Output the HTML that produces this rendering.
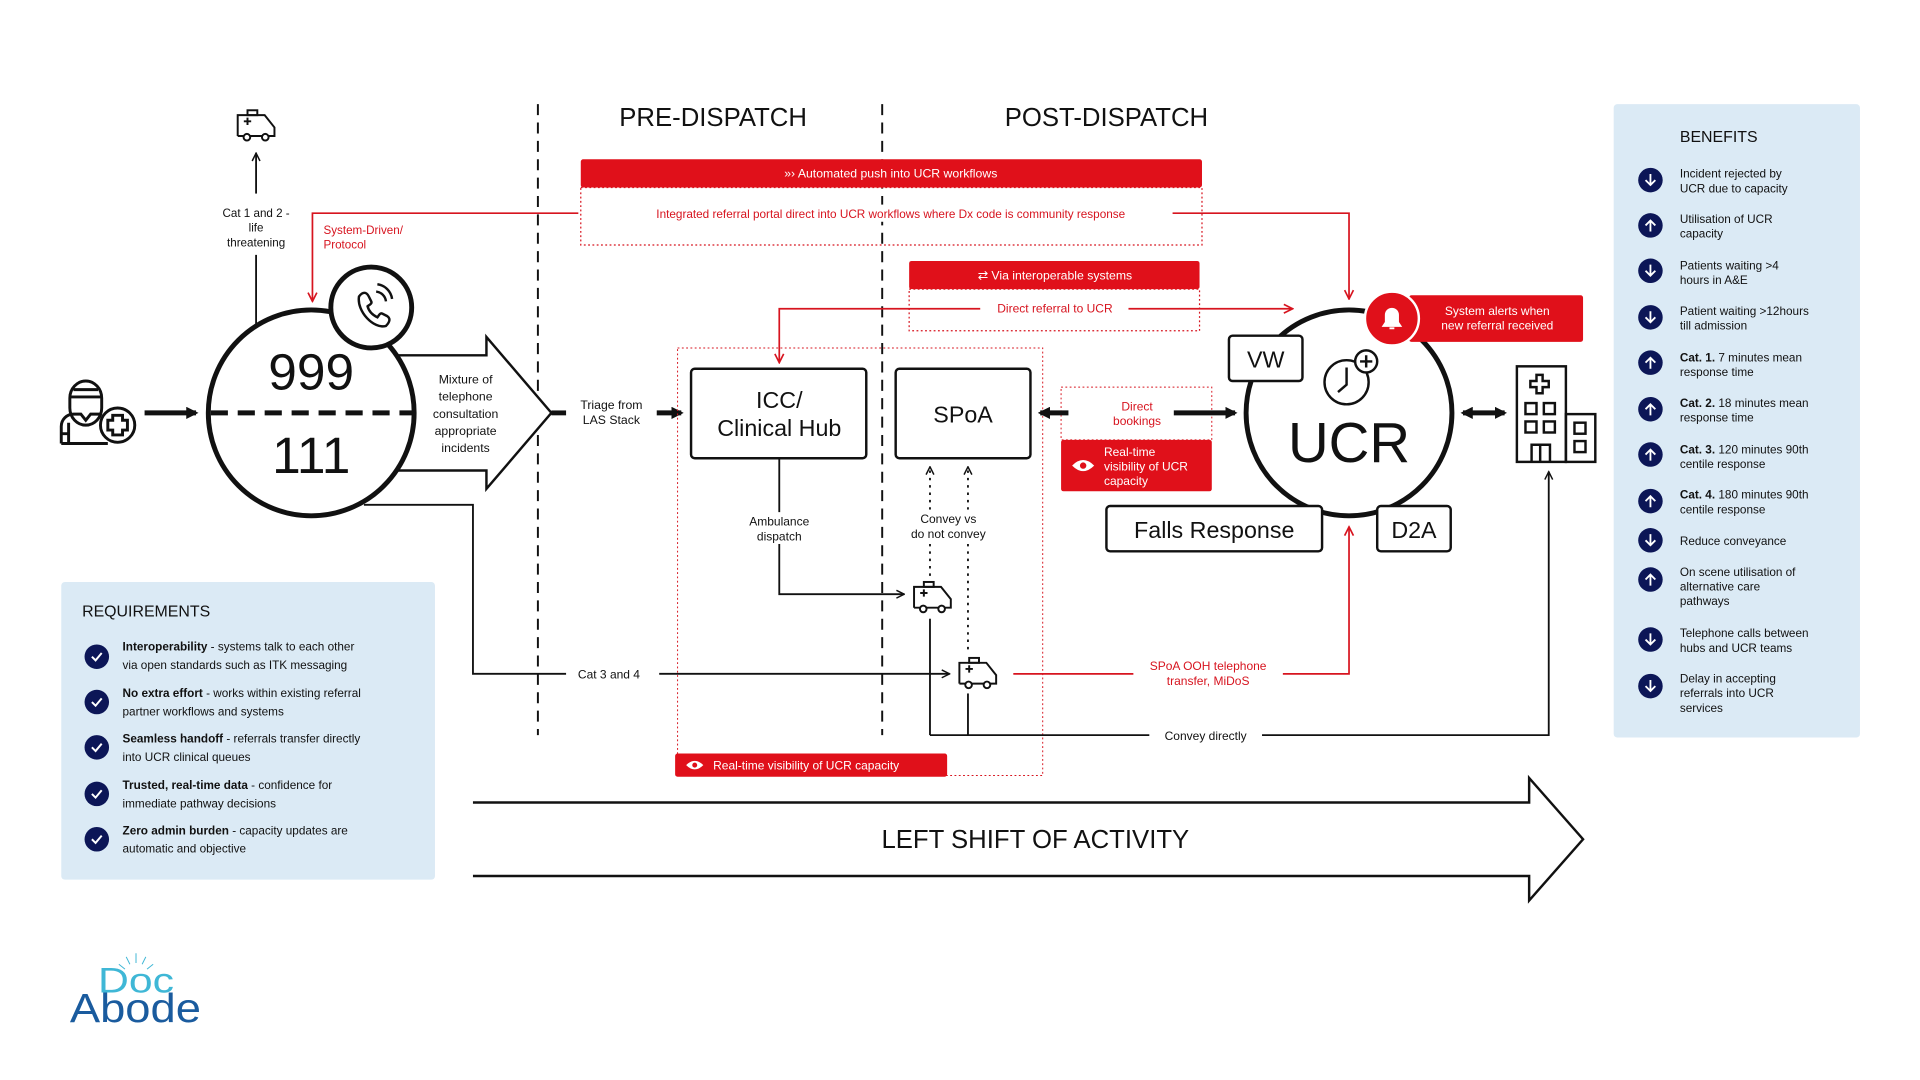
<!DOCTYPE html>
<html><head><meta charset="utf-8"><style>
html,body{margin:0;padding:0;background:#fff;width:1920px;height:1080px;overflow:hidden}
svg{display:block}
text{font-family:"Liberation Sans",sans-serif}
</style></head><body>
<svg width="1920" height="1080" viewBox="0 0 1567 881.5" preserveAspectRatio="none" xmlns="http://www.w3.org/2000/svg">
<defs>
<marker id="ab" viewBox="0 0 10 10" refX="9" refY="5" markerWidth="8" markerHeight="8" orient="auto-start-reverse" markerUnits="userSpaceOnUse"><path d="M1,1 L9,5 L1,9" fill="none" stroke="#111" stroke-width="1.5"/></marker>
<marker id="ar" viewBox="0 0 10 10" refX="9" refY="5" markerWidth="9" markerHeight="9" orient="auto-start-reverse" markerUnits="userSpaceOnUse"><path d="M1,1 L9,5 L1,9" fill="none" stroke="#d7141f" stroke-width="1.5"/></marker>
<marker id="at" viewBox="0 0 10 10" refX="8" refY="5" markerWidth="10" markerHeight="10" orient="auto-start-reverse" markerUnits="userSpaceOnUse"><path d="M0,0 L10,5 L0,10 Z" fill="#111"/></marker>
<g id="amb" fill="none" stroke="#111" stroke-width="1.6">
<path d="M0,20 V3 H22 L30,13 V20 H25 M20,20 H10 M5,20 H0"/><rect x="8" y="-1" width="8" height="4"/><path d="M5,8 H11 M8,5 V11"/><circle cx="7.5" cy="21" r="2.7"/><circle cx="22.5" cy="21" r="2.7"/>
</g>
</defs>

<line x1="439" y1="85" x2="439" y2="600" stroke="#111" stroke-width="1.6" stroke-dasharray="9 6"/>
<line x1="720" y1="85" x2="720" y2="600" stroke="#111" stroke-width="1.6" stroke-dasharray="9 6"/>
<text x="582" y="103" font-size="21" text-anchor="middle" fill="#111">PRE-DISPATCH</text>
<text x="903" y="103" font-size="21" text-anchor="middle" fill="#111">POST-DISPATCH</text>

<use href="#amb" x="194" y="91"/>
<line x1="209" y1="158" x2="209" y2="125" stroke="#111" stroke-width="1.5" marker-end="url(#ab)"/>
<text font-size="9.5" text-anchor="middle" fill="#111"><tspan x="209" y="177">Cat 1 and 2 -</tspan><tspan x="209" y="189">life</tspan><tspan x="209" y="201">threatening</tspan></text>
<line x1="209" y1="208" x2="209" y2="266" stroke="#111" stroke-width="1.5"/>

<path d="M472,174 H255 V246" fill="none" stroke="#d7141f" stroke-width="1.4" marker-end="url(#ar)"/>
<text font-size="9.5" fill="#d7141f"><tspan x="264" y="191">System-Driven/</tspan><tspan x="264" y="203">Protocol</tspan></text>

<g fill="none" stroke="#111" stroke-width="2.4">
<path d="M57,325 a13,14 0 0 1 26,0 v8 a13,14 0 0 1 -26,0 z"/><path d="M57,324 h26 M60,318 h20"/>
<path d="M50,362 v-14 a10,10 0 0 1 10,-10 h6 l4,5 l4,-5 h8"/><path d="M50,362 h38 M50,354 h6 M56,345 v17"/>
<circle cx="96" cy="347" r="14" fill="#fff"/><path d="M92,339 h8 v4 h4 v8 h-4 v4 h-8 v-4 h-4 v-8 h4 z"/>
</g>
<line x1="118" y1="337" x2="160" y2="337" stroke="#111" stroke-width="4" marker-end="url(#at)"/>

<path d="M296,290 H397 V275 L450,337 L397,399 V384 H296" fill="#fff" stroke="#111" stroke-width="2"/>
<text font-size="10" text-anchor="middle" fill="#111"><tspan x="380" y="313">Mixture of</tspan><tspan x="380" y="327">telephone</tspan><tspan x="380" y="341">consultation</tspan><tspan x="380" y="355">appropriate</tspan><tspan x="380" y="369">incidents</tspan></text>

<circle cx="254" cy="337" r="84" fill="#fff" stroke="#111" stroke-width="4"/>
<line x1="172" y1="337" x2="337" y2="337" stroke="#111" stroke-width="4" stroke-dasharray="14 8"/>
<text x="254" y="318" font-size="42" text-anchor="middle" fill="#111">999</text>
<text x="254" y="386" font-size="42" text-anchor="middle" fill="#111">111</text>
<circle cx="303" cy="251" r="33" fill="#fff" stroke="#111" stroke-width="4"/>
<path d="M293,242 c3,-4 6,-4 8,0 l2,4 c1,2 -2,3 -3,4 c1,4 4,7 8,9 c1,-1 2,-4 4,-3 l4,2 c3,2 2,5 -1,8 c-10,3 -24,-12 -22,-24 z" fill="none" stroke="#111" stroke-width="2"/>
<path d="M307,238 a9,9 0 0 1 8,8 M308,232 a14,14 0 0 1 12,12" fill="none" stroke="#111" stroke-width="2"/>

<line x1="450" y1="337" x2="462" y2="337" stroke="#111" stroke-width="4"/>
<text font-size="10" text-anchor="middle" fill="#111"><tspan x="499" y="334">Triage from</tspan><tspan x="499" y="346">LAS Stack</tspan></text>
<line x1="536" y1="337" x2="556" y2="337" stroke="#111" stroke-width="4" marker-end="url(#at)"/>

<rect x="474" y="153" width="507" height="47" fill="none" stroke="#d7141f" stroke-width="1" stroke-dasharray="1.5 2"/>
<rect x="474" y="130" width="507" height="23" rx="2" fill="#e0101a"/>
<text x="727" y="145" font-size="10" text-anchor="middle" fill="#fff">»› Automated push into UCR workflows</text>
<rect x="500" y="167" width="455" height="14" fill="#fff"/>
<text x="727" y="178" font-size="9.6" text-anchor="middle" fill="#d7141f">Integrated referral portal direct into UCR workflows where Dx code is community response</text>
<path d="M957,174 H1101 V244" fill="none" stroke="#d7141f" stroke-width="1.4" marker-end="url(#ar)"/>

<rect x="742" y="236" width="237" height="34" fill="none" stroke="#d7141f" stroke-width="1" stroke-dasharray="1.5 2"/>
<rect x="742" y="213" width="237" height="23" rx="2" fill="#e0101a"/>
<text x="861" y="228" font-size="10" text-anchor="middle" fill="#fff">⇄ Via interoperable systems</text>
<path d="M800,252 H636 V296" fill="none" stroke="#d7141f" stroke-width="1.4" marker-end="url(#ar)"/>
<text x="861" y="255" font-size="9.8" text-anchor="middle" fill="#d7141f">Direct referral to UCR</text>
<line x1="921" y1="252" x2="1055" y2="252" stroke="#d7141f" stroke-width="1.4" marker-end="url(#ar)"/>

<rect x="553" y="284" width="298" height="349" fill="none" stroke="#d7141f" stroke-width="0.8" stroke-dasharray="1.5 2"/>

<rect x="564" y="301" width="143" height="73" rx="3" fill="#fff" stroke="#111" stroke-width="2"/>
<text font-size="19" text-anchor="middle" fill="#111"><tspan x="636" y="333">ICC/</tspan><tspan x="636" y="356">Clinical Hub</tspan></text>
<rect x="731" y="301" width="110" height="73" rx="3" fill="#fff" stroke="#111" stroke-width="2"/>
<text x="786" y="345" font-size="19" text-anchor="middle" fill="#111">SPoA</text>

<path d="M636,374 V485 H738" fill="none" stroke="#111" stroke-width="1.5" marker-end="url(#ab)"/>
<rect x="600" y="418" width="72" height="26" fill="#fff"/>
<text font-size="9.8" text-anchor="middle" fill="#111"><tspan x="636" y="429">Ambulance</tspan><tspan x="636" y="441">dispatch</tspan></text>
<use href="#amb" x="746" y="476"/>
<use href="#amb" x="783" y="538"/>

<line x1="759" y1="470" x2="759" y2="381" stroke="#111" stroke-width="1.5" stroke-dasharray="2 4" marker-end="url(#ab)"/>
<line x1="790" y1="530" x2="790" y2="381" stroke="#111" stroke-width="1.5" stroke-dasharray="2 4" marker-end="url(#ab)"/>
<rect x="735" y="416" width="80" height="28" fill="#fff"/>
<text font-size="9.8" text-anchor="middle" fill="#111"><tspan x="774" y="427">Convey vs</tspan><tspan x="774" y="439">do not convey</tspan></text>

<line x1="759" y1="505" x2="759" y2="600" stroke="#111" stroke-width="1.5"/>
<line x1="790" y1="566" x2="790" y2="600" stroke="#111" stroke-width="1.5"/>
<path d="M759,600 H938 M1030,600 H1264 V385" fill="none" stroke="#111" stroke-width="1.5" marker-end="url(#ab)"/>
<text x="984" y="604" font-size="9.8" text-anchor="middle" fill="#111">Convey directly</text>

<path d="M297,412 H386 V550 H462" fill="none" stroke="#111" stroke-width="1.5"/>
<text x="497" y="554" font-size="9.8" text-anchor="middle" fill="#111">Cat 3 and 4</text>
<line x1="538" y1="550" x2="775" y2="550" stroke="#111" stroke-width="1.5" marker-end="url(#ab)"/>

<line x1="827" y1="550" x2="925" y2="550" stroke="#d7141f" stroke-width="1.4"/>
<text font-size="9.8" text-anchor="middle" fill="#d7141f"><tspan x="986" y="547">SPoA OOH telephone</tspan><tspan x="986" y="559">transfer, MiDoS</tspan></text>
<path d="M1047,550 H1101 V430" fill="none" stroke="#d7141f" stroke-width="1.4" marker-end="url(#ar)"/>

<rect x="551" y="615" width="222" height="19" rx="2" fill="#e0101a"/>
<path d="M560,624.5 q7,-7 14,0 q-7,7 -14,0 z" fill="#fff"/><circle cx="567" cy="624.5" r="2" fill="#e0101a"/>
<text x="582" y="628" font-size="9.8" fill="#fff">Real-time visibility of UCR capacity</text>

<rect x="866" y="316" width="123" height="43" fill="none" stroke="#d7141f" stroke-width="0.8" stroke-dasharray="1.5 2"/>
<text font-size="9.8" text-anchor="middle" fill="#d7141f"><tspan x="928" y="335">Direct</tspan><tspan x="928" y="347">bookings</tspan></text>
<line x1="872" y1="337" x2="849" y2="337" stroke="#111" stroke-width="4" marker-end="url(#at)"/>
<line x1="958" y1="337" x2="1008" y2="337" stroke="#111" stroke-width="4" marker-end="url(#at)"/>
<rect x="866" y="359" width="123" height="42" rx="2" fill="#e0101a"/>
<path d="M875,380 q9,-9 18,0 q-9,9 -18,0 z" fill="#fff"/><circle cx="884" cy="380" r="2.6" fill="#e0101a"/>
<text font-size="9.8" fill="#fff"><tspan x="901" y="372">Real-time</tspan><tspan x="901" y="384">visibility of UCR</tspan><tspan x="901" y="396">capacity</tspan></text>

<circle cx="1101" cy="337" r="84" fill="#fff" stroke="#111" stroke-width="4"/>
<text x="1101" y="377" font-size="46" text-anchor="middle" fill="#111">UCR</text>
<rect x="1003" y="274" width="60" height="37" rx="3" fill="#fff" stroke="#111" stroke-width="2"/>
<text x="1033" y="300" font-size="19" text-anchor="middle" fill="#111">VW</text>
<circle cx="1099" cy="312" r="18" fill="none" stroke="#111" stroke-width="2"/>
<path d="M1099,300 V314 L1092,320" fill="none" stroke="#111" stroke-width="2"/>
<circle cx="1115" cy="295" r="9" fill="#fff" stroke="#111" stroke-width="2"/><path d="M1110,295 h10 M1115,290 v10" stroke="#111" stroke-width="2"/>
<rect x="903" y="413" width="176" height="37" rx="3" fill="#fff" stroke="#111" stroke-width="2"/>
<text x="991" y="439" font-size="19" text-anchor="middle" fill="#111">Falls Response</text>
<rect x="1124" y="413" width="60" height="37" rx="3" fill="#fff" stroke="#111" stroke-width="2"/>
<text x="1154" y="439" font-size="19" text-anchor="middle" fill="#111">D2A</text>

<rect x="1150" y="241" width="142" height="38" rx="2" fill="#e0101a"/>
<circle cx="1136" cy="260" r="22" fill="#e0101a" stroke="#fff" stroke-width="2"/>
<path d="M1129,266 h14 l-2,-3 v-6 a5,5 0 0 0 -10,0 v6 z M1134,268 h4" fill="#fff" stroke="#fff" stroke-width="1.5"/>
<text font-size="9.8" text-anchor="middle" fill="#fff"><tspan x="1222" y="257">System alerts when</tspan><tspan x="1222" y="269">new referral received</tspan></text>

<line x1="1194" y1="337" x2="1228" y2="337" stroke="#111" stroke-width="4" marker-start="url(#at)" marker-end="url(#at)"/>
<g fill="none" stroke="#111" stroke-width="2">
<rect x="1238" y="299" width="40" height="78"/><rect x="1278" y="338" width="24" height="39"/>
<path d="M1254,306 h5 v5 h5 v5 h-5 v5 h-5 v-5 h-5 v-5 h5 z"/>
<rect x="1245" y="329" width="9" height="9"/><rect x="1260" y="329" width="9" height="9"/><rect x="1245" y="344" width="9" height="9"/><rect x="1260" y="344" width="9" height="9"/>
<path d="M1250,377 v-14 h15 v14 M1257,363 v14"/><rect x="1285" y="345" width="9" height="9"/><rect x="1285" y="360" width="9" height="9"/>
</g>

<path d="M386,655 H1248 V635 L1292,685 L1248,735 V715 H386" fill="none" stroke="#111" stroke-width="2"/>
<text x="845" y="692" font-size="21" text-anchor="middle" fill="#111">LEFT SHIFT OF ACTIVITY</text>

<rect x="50" y="475" width="305" height="243" rx="3" fill="#dbeaf5"/>
<text x="67" y="503" font-size="13" fill="#111">REQUIREMENTS</text>
<g font-size="9.6" fill="#111">
<text><tspan x="100" y="531" font-weight="bold">Interoperability</tspan><tspan> - systems talk to each other</tspan><tspan x="100" y="546">via open standards such as ITK messaging</tspan></text>
<text><tspan x="100" y="569" font-weight="bold">No extra effort</tspan><tspan> - works within existing referral</tspan><tspan x="100" y="584">partner workflows and systems</tspan></text>
<text><tspan x="100" y="606" font-weight="bold">Seamless handoff</tspan><tspan> - referrals transfer directly</tspan><tspan x="100" y="621">into UCR clinical queues</tspan></text>
<text><tspan x="100" y="644" font-weight="bold">Trusted, real-time data</tspan><tspan> - confidence for</tspan><tspan x="100" y="659">immediate pathway decisions</tspan></text>
<text><tspan x="100" y="681" font-weight="bold">Zero admin burden</tspan><tspan> - capacity updates are</tspan><tspan x="100" y="696">automatic and objective</tspan></text>
</g>
<g fill="#0c1657">
<circle cx="79" cy="536" r="10"/><circle cx="79" cy="573" r="10"/><circle cx="79" cy="610" r="10"/><circle cx="79" cy="648" r="10"/><circle cx="79" cy="685" r="10"/>
</g>
<g fill="none" stroke="#fff" stroke-width="1.6">
<path d="M75,536 l3,3 l5,-6"/><path d="M75,573 l3,3 l5,-6"/><path d="M75,610 l3,3 l5,-6"/><path d="M75,648 l3,3 l5,-6"/><path d="M75,685 l3,3 l5,-6"/>
</g>

<rect x="1317" y="85" width="201" height="517" rx="3" fill="#dbeaf5"/>
<text x="1371" y="116" font-size="13" fill="#111">BENEFITS</text>
<g font-size="9.6" fill="#111">
<text><tspan x="1371" y="145">Incident rejected by</tspan><tspan x="1371" y="157">UCR due to capacity</tspan></text>
<text><tspan x="1371" y="182">Utilisation of UCR</tspan><tspan x="1371" y="194">capacity</tspan></text>
<text><tspan x="1371" y="220">Patients waiting &gt;4</tspan><tspan x="1371" y="232">hours in A&amp;E</tspan></text>
<text><tspan x="1371" y="257">Patient waiting &gt;12hours</tspan><tspan x="1371" y="269">till admission</tspan></text>
<text><tspan x="1371" y="295" font-weight="bold">Cat. 1.</tspan><tspan> 7 minutes mean</tspan><tspan x="1371" y="307">response time</tspan></text>
<text><tspan x="1371" y="332" font-weight="bold">Cat. 2.</tspan><tspan> 18 minutes mean</tspan><tspan x="1371" y="344">response time</tspan></text>
<text><tspan x="1371" y="370" font-weight="bold">Cat. 3.</tspan><tspan> 120 minutes 90th</tspan><tspan x="1371" y="382">centile response</tspan></text>
<text><tspan x="1371" y="407" font-weight="bold">Cat. 4.</tspan><tspan> 180 minutes 90th</tspan><tspan x="1371" y="419">centile response</tspan></text>
<text><tspan x="1371" y="445">Reduce conveyance</tspan></text>
<text><tspan x="1371" y="470">On scene utilisation of</tspan><tspan x="1371" y="482">alternative care</tspan><tspan x="1371" y="494">pathways</tspan></text>
<text><tspan x="1371" y="520">Telephone calls between</tspan><tspan x="1371" y="532">hubs and UCR teams</tspan></text>
<text><tspan x="1371" y="557">Delay in accepting</tspan><tspan x="1371" y="569">referrals into UCR</tspan><tspan x="1371" y="581">services</tspan></text>
</g>
<g fill="#0c1657">
<circle cx="1347" cy="147" r="10"/><circle cx="1347" cy="184" r="10"/><circle cx="1347" cy="221" r="10"/><circle cx="1347" cy="259" r="10"/><circle cx="1347" cy="296" r="10"/><circle cx="1347" cy="334" r="10"/><circle cx="1347" cy="371" r="10"/><circle cx="1347" cy="409" r="10"/><circle cx="1347" cy="441" r="10"/><circle cx="1347" cy="473" r="10"/><circle cx="1347" cy="522" r="10"/><circle cx="1347" cy="560" r="10"/>
</g>
<g fill="none" stroke="#fff" stroke-width="1.5">
<path d="M1347,142 v9 M1343,147 l4,4 l4,-4"/>
<path d="M1347,189 v-9 M1343,184 l4,-4 l4,4"/>
<path d="M1347,216 v9 M1343,221 l4,4 l4,-4"/>
<path d="M1347,254 v9 M1343,259 l4,4 l4,-4"/>
<path d="M1347,301 v-9 M1343,296 l4,-4 l4,4"/>
<path d="M1347,339 v-9 M1343,334 l4,-4 l4,4"/>
<path d="M1347,376 v-9 M1343,371 l4,-4 l4,4"/>
<path d="M1347,414 v-9 M1343,409 l4,-4 l4,4"/>
<path d="M1347,436 v9 M1343,441 l4,4 l4,-4"/>
<path d="M1347,478 v-9 M1343,473 l4,-4 l4,4"/>
<path d="M1347,517 v9 M1343,522 l4,4 l4,-4"/>
<path d="M1347,555 v9 M1343,560 l4,4 l4,-4"/>
</g>

<g stroke="#3fb7d6" stroke-width="0.8">
<line x1="111" y1="778" x2="111" y2="786"/><line x1="103" y1="781" x2="106" y2="787"/><line x1="119" y1="781" x2="116" y2="787"/><line x1="97" y1="787" x2="102" y2="791"/><line x1="125" y1="787" x2="120" y2="791"/>
</g>
<text x="80" y="810" font-size="29" fill="#3fb7d6" textLength="62" lengthAdjust="spacingAndGlyphs">Doc</text>
<text x="57" y="834" font-size="33" fill="#1a5b9e" textLength="107" lengthAdjust="spacingAndGlyphs">Abode</text>
</svg>
</body></html>
